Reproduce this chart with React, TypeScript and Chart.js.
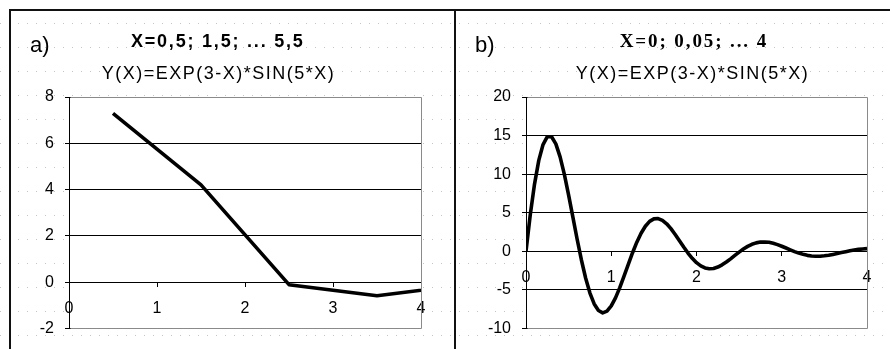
import React, { useEffect, useRef } from "react";
import { Chart, registerables } from "chart.js";

Chart.register(...registerables);

// ---- Data ----
const xA = [0.5, 1.5, 2.5, 3.5, 4.5, 5.5];
const yA = [7.29, 4.2, -0.11, -0.59, -0.11, 0.06];

const xB = [
  0, 0.05, 0.1, 0.15, 0.2, 0.25, 0.3, 0.35, 0.4, 0.45,
  0.5, 0.55, 0.6, 0.65, 0.7, 0.75, 0.8, 0.85, 0.9, 0.95,
  1, 1.05, 1.1, 1.15, 1.2, 1.25, 1.3, 1.35, 1.4, 1.45,
  1.5, 1.55, 1.6, 1.65, 1.7, 1.75, 1.8, 1.85, 1.9, 1.95,
  2, 2.05, 2.1, 2.15, 2.2, 2.25, 2.3, 2.35, 2.4, 2.45,
  2.5, 2.55, 2.6, 2.65, 2.7, 2.75, 2.8, 2.85, 2.9, 2.95,
  3, 3.05, 3.1, 3.15, 3.2, 3.25, 3.3, 3.35, 3.4, 3.45,
  3.5, 3.55, 3.6, 3.65, 3.7, 3.75, 3.8, 3.85, 3.9, 3.95,
  4,
];
const yB = [
  0, 4.73, 8.71, 11.78, 13.84, 14.85, 14.84, 13.93, 12.24, 9.97,
  7.29, 4.42, 1.56, -1.13, -3.5, -5.42, -6.83, -7.68, -7.98, -7.76,
  -7.09, -6.04, -4.72, -3.23, -1.69, -0.19, 1.18, 2.34, 3.25, 3.88,
  4.2, 4.24, 4.01, 3.56, 2.93, 2.18, 1.37, 0.55, -0.23, -0.91,
  -1.48, -1.9, -2.16, -2.27, -2.23, -2.05, -1.76, -1.39, -0.98, -0.54,
  -0.11, 0.29, 0.63, 0.9, 1.09, 1.19, 1.21, 1.16, 1.03, 0.86,
  0.65, 0.42, 0.19, -0.04, -0.24, -0.4, -0.53, -0.61, -0.64, -0.64,
  -0.59, -0.52, -0.41, -0.3, -0.17, -0.05, 0.07, 0.17, 0.25, 0.3,
  0.34,
];

const xTicks = [0, 1, 2, 3, 4];
const yTicksA = [-2, 0, 2, 4, 6, 8];
const yTicksB = [-10, -5, 0, 5, 10, 15, 20];

const panelLabelA = "a)";
const panelLabelB = "b)";
const titleA = "X=0,5; 1,5; ... 5,5";
const titleB = "X=0; 0,05; ... 4";
const subtitle = "Y(X)=EXP(3-X)*SIN(5*X)";

// ---- Helpers ----
const SANS = '"Liberation Sans", Arial, sans-serif';
const SERIF = '"Liberation Serif", "Times New Roman", serif';

const align = (v: number) => Math.round(v - 0.5) + 0.5;

const plotFrame = {
  id: "plotFrame",
  beforeDraw(chart: any) {
    const { ctx, chartArea: a } = chart;
    ctx.save();
    ctx.fillStyle = "#ffffff";
    ctx.fillRect(a.left, a.top, a.right - a.left, a.bottom - a.top);
    ctx.restore();
  },
  beforeDatasetsDraw(chart: any) {
    const { ctx, chartArea: a } = chart;
    const t = align(a.top);
    const b = align(a.bottom);
    const r = align(a.right);
    const l = align(a.left) + 1;
    ctx.save();
    ctx.strokeStyle = "#8a8a8a";
    ctx.lineWidth = 1;
    ctx.beginPath();
    ctx.moveTo(l, t);
    ctx.lineTo(r, t);
    ctx.lineTo(r, b);
    ctx.lineTo(l, b);
    ctx.stroke();
    ctx.restore();
  },
};

function makeConfig(
  xs: number[],
  ys: number[],
  yTicks: number[],
  pad: { left: number; right: number; top: number; bottom: number }
): any {
  const tickFont = { family: SANS, size: 16 };
  return {
    type: "line",
    data: {
      datasets: [
        {
          data: xs.map((x, i) => ({ x, y: ys[i] })),
          borderColor: "#000000",
          borderWidth: 3.6,
          borderJoinStyle: "round",
          pointRadius: 0,
          tension: 0,
          fill: false,
          clip: 0,
        },
      ],
    },
    options: {
      animation: false,
      responsive: false,
      events: [],
      layout: { padding: pad },
      plugins: {
        legend: { display: false },
        title: { display: false },
        tooltip: { enabled: false },
      },
      scales: {
        x: {
          type: "linear",
          position: { y: 0 },
          min: xTicks[0],
          max: xTicks[xTicks.length - 1],
          afterBuildTicks: (s: any) => {
            s.ticks = xTicks.map((v) => ({ value: v }));
          },
          grid: {
            drawOnChartArea: false,
            color: "#000000",
            tickColor: "#000000",
            tickLength: 4,
          },
          border: { color: "#000000", width: 1 },
          ticks: {
            color: "#000000",
            font: tickFont,
            padding: 13,
            maxRotation: 0,
            autoSkip: false,
          },
        },
        y: {
          type: "linear",
          position: "left",
          min: yTicks[0],
          max: yTicks[yTicks.length - 1],
          afterBuildTicks: (s: any) => {
            s.ticks = yTicks.map((v) => ({ value: v }));
          },
          afterFit: (s: any) => {
            s.width = 40;
          },
          grid: {
            color: "#000000",
            tickColor: "#000000",
            tickLength: 4,
            lineWidth: 1,
          },
          border: { color: "#000000", width: 1 },
          ticks: {
            color: "#000000",
            font: tickFont,
            padding: 11,
            autoSkip: false,
          },
        },
      },
    },
    plugins: [plotFrame],
  };
}

const dotsSvg =
  "url(\"data:image/svg+xml;utf8,<svg xmlns='http://www.w3.org/2000/svg' width='9' height='24'><rect x='0' y='23' width='1' height='1' fill='%23c4c4c4'/></svg>\")";

export default function App() {
  const refA = useRef<HTMLCanvasElement | null>(null);
  const refB = useRef<HTMLCanvasElement | null>(null);

  useEffect(() => {
    document.body.style.margin = "0";
    const a = new Chart(
      refA.current as HTMLCanvasElement,
      makeConfig(xA, yA, yTicksA, { left: 29, right: 33, top: 97, bottom: 20 })
    );
    const b = new Chart(
      refB.current as HTMLCanvasElement,
      makeConfig(xB, yB, yTicksB, { left: 30, right: 23, top: 97, bottom: 20 })
    );
    return () => {
      a.destroy();
      b.destroy();
    };
  }, []);

  const txt = (
    content: string,
    left: number,
    top: number,
    width: number,
    size: number,
    opts: { bold?: boolean; family?: string; spacing?: number; align?: "left" | "center" } = {}
  ) => (
    <div
      style={{
        position: "absolute",
        left,
        top,
        width,
        fontFamily: opts.family || SANS,
        fontSize: size,
        lineHeight: size + "px",
        fontWeight: opts.bold ? 700 : 400,
        letterSpacing: (opts.spacing || 0) + "px",
        paddingLeft: opts.align === "center" ? opts.spacing || 0 : 0,
        textAlign: opts.align || "left",
        color: "#000",
        whiteSpace: "nowrap",
      }}
    >
      {content}
    </div>
  );

  return (
    <div
      style={{
        position: "fixed",
        left: 0,
        top: 0,
        width: 890,
        height: 349,
        overflow: "hidden",
        backgroundColor: "#ffffff",
        backgroundImage: dotsSvg,
        backgroundRepeat: "repeat",
      }}
    >
      <canvas
        ref={refA}
        width={454}
        height={349}
        style={{ position: "absolute", left: 0, top: 0, width: 454, height: 349 }}
      />
      <canvas
        ref={refB}
        width={434}
        height={349}
        style={{ position: "absolute", left: 456, top: 0, width: 434, height: 349 }}
      />
      {/* frame lines */}
      <div style={{ position: "absolute", left: 9, top: 9, width: 881, height: 2, background: "#111" }} />
      <div style={{ position: "absolute", left: 9, top: 9, width: 2, height: 340, background: "#111" }} />
      <div style={{ position: "absolute", left: 454, top: 9, width: 2, height: 340, background: "#111" }} />

      {txt(panelLabelA, 30, 34, 40, 22)}
      {txt(titleA, 66, 32, 300, 18, { bold: true, spacing: 1.8, align: "center" })}
      {txt(subtitle, 67, 64, 300, 18, { spacing: 1.5, align: "center" })}

      {txt(panelLabelB, 475, 34, 40, 22)}
      {txt(titleB, 542, 31, 300, 19, { bold: true, family: SERIF, spacing: 1.9, align: "center" })}
      {txt(subtitle, 541, 64, 300, 18, { spacing: 1.5, align: "center" })}
    </div>
  );
}
